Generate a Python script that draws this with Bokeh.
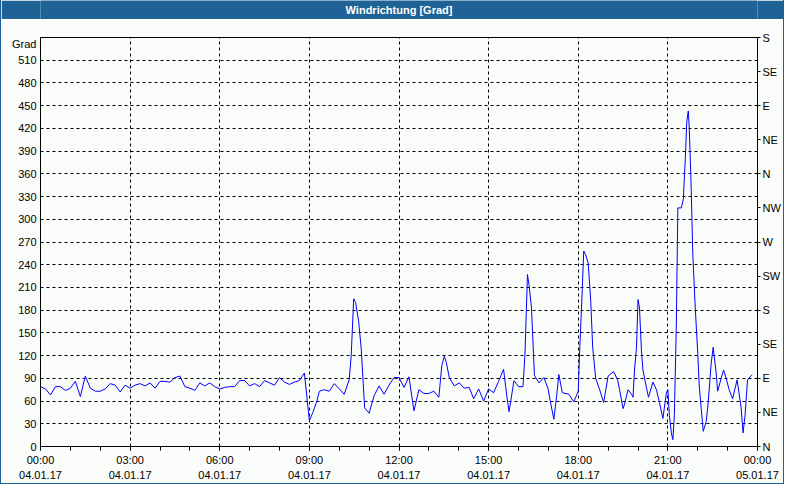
from bokeh.plotting import figure
from bokeh.models import Range1d, LinearAxis, FixedTicker
from bokeh.layouts import column
from bokeh.core.properties import value
from bokeh.embed import file_html
from bokeh.resources import INLINE

title_text = "Windrichtung [Grad]"
y_unit_label = "Grad"

# time in minutes after 04.01.17 00:00
minutes = [0, 10, 20, 30, 40, 50, 60, 70, 80, 90, 100, 110, 120, 130, 140, 150, 160, 170, 180, 190,
           200, 210, 220, 230, 240, 250, 260, 270, 280, 290, 300, 310, 320, 330, 340, 350, 360, 370, 380, 390,
           400, 410, 420, 430, 440, 450, 460, 470, 480, 490, 500, 510, 520, 530, 540, 547, 555, 560, 570, 580,
           590, 600, 610, 620, 624, 629, 633, 639, 644, 648, 651, 660, 670, 680, 690, 700, 710, 720, 730, 740,
           750, 760, 770, 780, 790, 800, 806, 811, 815, 821, 831, 841, 851, 861, 870, 880, 890, 900, 910, 920,
           930, 937, 941, 951, 960, 969, 973, 978, 981, 986, 992, 1001, 1011, 1019, 1025, 1031, 1037, 1041, 1048, 1061,
           1071, 1080, 1083, 1088, 1091, 1095, 1100, 1105, 1109, 1115, 1123, 1131, 1140, 1151, 1159, 1163, 1170, 1173, 1180, 1187,
           1190, 1193, 1197, 1200, 1203, 1207, 1210, 1215, 1221, 1230, 1237, 1243, 1250, 1257, 1260, 1263, 1267, 1270, 1273, 1277,
           1280, 1287, 1291, 1295, 1298, 1301, 1303, 1307, 1310, 1315, 1320, 1323, 1327, 1331, 1337, 1341, 1347, 1351, 1357, 1360,
           1367, 1372, 1377, 1383, 1390, 1399, 1407, 1411, 1415, 1420, 1429]
degrees = [79, 76, 68, 79, 79, 74, 77, 86, 66, 93, 77, 73, 73, 76, 83, 81, 72, 81, 77, 81,
           83, 80, 84, 77, 86, 86, 85, 91, 93, 79, 77, 74, 84, 80, 84, 79, 76, 78, 79, 79,
           87, 87, 80, 83, 79, 87, 84, 81, 91, 85, 82, 85, 87, 97, 34, 45, 60, 73, 75, 73,
           83, 76, 69, 88, 120, 195, 190, 165, 130, 85, 51, 44, 67, 80, 69, 81, 91, 91, 78, 92,
           47, 75, 70, 70, 73, 65, 107, 119, 111, 91, 80, 84, 77, 78, 63, 76, 60, 76, 71, 86,
           102, 64, 46, 87, 79, 79, 122, 227, 214, 184, 94, 84, 91, 77, 56, 36, 69, 95, 71, 69,
           59, 73, 129, 206, 258, 253, 242, 193, 131, 90, 75, 58, 93, 99, 88, 75, 50, 56, 75, 69,
           65, 101, 131, 194, 183, 125, 101, 84, 65, 85, 75, 58, 37, 71, 75, 41, 18, 9, 41, 161,
           315, 315, 326, 380, 429, 443, 420, 337, 255, 183, 123, 80, 50, 20, 33, 58, 110, 131, 97, 73,
           90, 101, 90, 75, 63, 88, 52, 18, 41, 88, 95]

x_ticks = [0, 180, 360, 540, 720, 900, 1080, 1260, 1440]
x_tick_labels = ["00:00\n04.01.17", "03:00\n04.01.17", "06:00\n04.01.17", "09:00\n04.01.17",
                 "12:00\n04.01.17", "15:00\n04.01.17", "18:00\n04.01.17", "21:00\n04.01.17",
                 "00:00\n05.01.17"]
x_minor_ticks = list(range(0, 1441, 60))
y_ticks = [0, 30, 60, 90, 120, 150, 180, 210, 240, 270, 300, 330, 360, 390, 420, 450, 480, 510]
y_unit_pos = 531
compass_ticks = [0, 45, 90, 135, 180, 225, 270, 315, 360, 405, 450, 495, 540]
compass_labels = ["N", "NE", "E", "SE", "S", "SW", "W", "NW", "N", "NE", "E", "SE", "S"]

FONT = "Liberation Sans"
BLUE = "#1f6396"
BG = "#f9fcf9"

hdr = figure(width=782, height=19, x_range=Range1d(0, 1), y_range=Range1d(0, 1),
             x_axis_type=None, y_axis_type=None, toolbar_location=None, output_backend="svg",
             min_border=0, outline_line_color=None,
             background_fill_color=BLUE, border_fill_color=BLUE)
hdr.grid.visible = False
hdr.text(x=[0.5], y=[0.5], text=[title_text], text_color="white", text_font=value(FONT),
         text_font_style="bold", text_font_size="11px", text_align="center", text_baseline="middle")

p = figure(width=782, height=464, x_range=Range1d(0, 1440), y_range=Range1d(0, 540),
           toolbar_location=None, output_backend="svg",
           min_border_left=39, min_border_right=23, min_border_top=18, min_border_bottom=33,
           background_fill_color=BG, border_fill_color=BG, outline_line_color="black")

xa = p.xaxis[0]
xa.ticker = FixedTicker(ticks=x_ticks, minor_ticks=x_minor_ticks)
xa.major_label_overrides = dict(zip(x_ticks, x_tick_labels))
xa.major_tick_out = 4
xa.major_tick_in = 0
xa.minor_tick_out = 4
xa.minor_tick_in = 0
xa.major_label_standoff = 3
xa.major_label_text_line_height = 1.25

ya = p.yaxis[0]
ya.ticker = FixedTicker(ticks=y_ticks + [y_unit_pos])
ya.major_label_overrides = {y_unit_pos: y_unit_label}
ya.major_tick_out = 0
ya.major_tick_in = 0
ya.minor_tick_out = 0
ya.minor_tick_in = 0
ya.major_label_standoff = 4

ra = LinearAxis(ticker=FixedTicker(ticks=compass_ticks),
                major_label_overrides=dict(zip(compass_ticks, compass_labels)),
                major_tick_out=3, major_tick_in=0, minor_tick_out=0, minor_tick_in=0,
                major_label_standoff=2)
p.add_layout(ra, "right")

for ax in [xa, ya, ra]:
    ax.axis_line_color = "black"
    ax.major_tick_line_color = "black"
    ax.minor_tick_line_color = "black"
    ax.major_label_text_font = FONT
    ax.major_label_text_font_size = "11px"
    ax.major_label_text_color = "black"

p.xgrid.grid_line_color = "black"
p.xgrid.grid_line_dash = "3 3"
p.ygrid.ticker = FixedTicker(ticks=y_ticks)
p.ygrid.grid_line_color = "black"
p.ygrid.grid_line_dash = "3 3"

p.line(minutes, degrees, line_color="#0000ff", line_width=1)

layout = column(hdr, p, spacing=0,
                styles={"border-left": "1px solid " + BLUE, "border-right": "1px solid " + BLUE,
                        "border-bottom": "1px solid " + BLUE})

open("out.html", "w").write(file_html(layout, INLINE))
